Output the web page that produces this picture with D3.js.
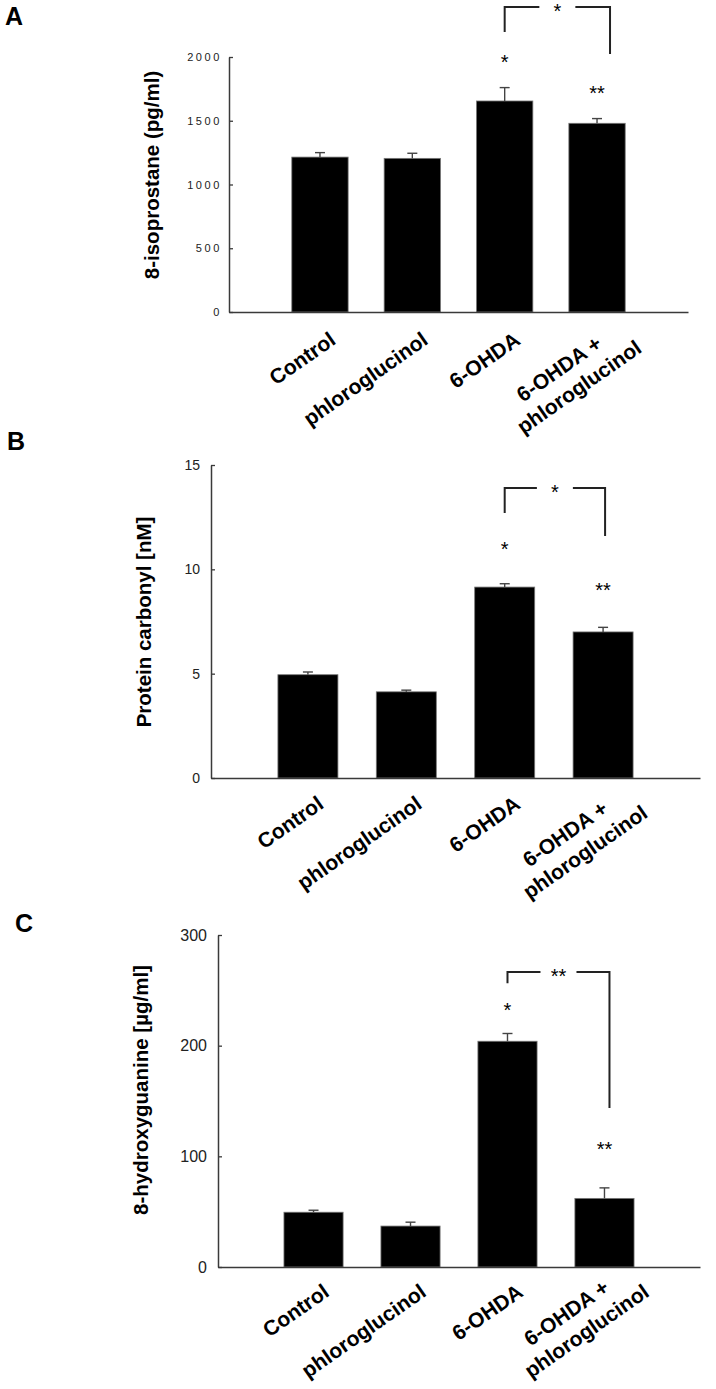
<!DOCTYPE html>
<html><head><meta charset="utf-8">
<script src="https://cdn.jsdelivr.net/npm/d3@7"></script>
<style>
body{margin:0;background:#fff}
svg{display:block}
text{font-family:"Liberation Sans",Arial,Helvetica,sans-serif}
</style>
</head><body>
<svg id="chart" width="716" height="1389"></svg>
<script>
// ---------- data ----------
const categories = ["Control", "phloroglucinol", "6-OHDA", "6-OHDA +\nphloroglucinol"];

const isoprostaneMean = [1215, 1205, 1655, 1480];
const isoprostaneErr  = [35, 40, 105, 37];
const isoprostaneTicks = [0, 500, 1000, 1500, 2000];
const isoprostaneSig = [{cat: 2, text: "*", y: 1992}, {cat: 3, text: "**", y: 1749}];
const isoprostaneBracket = {from: 2, to: 3, top: 2392, leftEnd: 2196, rightEnd: 2024, text: "*"};

const carbonylMean = [4.95, 4.13, 9.15, 7.0];
const carbonylErr  = [0.13, 0.08, 0.16, 0.22];
const carbonylTicks = [0, 5, 10, 15];
const carbonylSig = [{cat: 2, text: "*", y: 11.16}, {cat: 3, text: "**", y: 9.2}];
const carbonylBracket = {from: 2, to: 3, top: 13.9, leftEnd: 12.7, rightEnd: 11.6, text: "*"};

const ohgMean = [49.5, 37, 204, 62];
const ohgErr  = [1.8, 3.5, 7, 9.5];
const ohgTicks = [0, 100, 200, 300];
const ohgSig = [{cat: 2, text: "*", y: 235.8}, {cat: 3, text: "**", y: 110}];
const ohgBracket = {from: 2, to: 3, top: 266.5, leftEnd: 256.5, rightEnd: 143.6, text: "**"};

// ---------- layout / style ----------
const panels = [
  {letter: "A", lx: 5, ly: 25, title: "8-isoprostane (pg/ml)", titleX: 159, titleY: 175,
   mean: isoprostaneMean, err: isoprostaneErr, ticks: isoprostaneTicks, max: 2000,
   x0: 229, x1: 688, yTop: 57, yBase: 312, tickFont: 11, tickLS: 2.6, tickPad: 7,
   labelDy: 31, multiDy: 29,
   sig: isoprostaneSig, bracket: isoprostaneBracket, bracketDx: 13},
  {letter: "B", lx: 7, ly: 450, title: "Protein carbonyl [nM]", titleX: 151, titleY: 622,
   mean: carbonylMean, err: carbonylErr, ticks: carbonylTicks, max: 15,
   x0: 211, x1: 700, yTop: 465, yBase: 778, tickFont: 14, tickLS: 0, tickPad: 11,
   labelDy: 29, multiDy: 28,
   sig: carbonylSig, bracket: carbonylBracket, bracketDx: 2},
  {letter: "C", lx: 15, ly: 932, title: "8-hydroxyguanine [µg/ml]", titleX: 148, titleY: 1090,
   mean: ohgMean, err: ohgErr, ticks: ohgTicks, max: 300,
   x0: 218, x1: 700, yTop: 935, yBase: 1267, tickFont: 16, tickLS: 0, tickPad: 11,
   labelDy: 28, multiDy: 18,
   sig: ohgSig, bracket: ohgBracket, bracketDx: 5}
];

const svg = d3.select("#chart");
const axisColor = "#3a3a3a";
const angle = -35;

panels.forEach(p => {
  const g = svg.append("g");
  const x = d3.scaleBand().domain(d3.range(categories.length))
    .range([p.x0, p.x1]).paddingInner(0.39).paddingOuter(0.68);
  const y = d3.scaleLinear().domain([0, p.max]).range([p.yBase, p.yTop]);
  const cx = i => x(i) + x.bandwidth() / 2;

  // panel letter
  g.append("text").attr("x", p.lx).attr("y", p.ly)
    .attr("font-size", 25).attr("font-weight", "bold").text(p.letter);

  // y title
  g.append("text")
    .attr("transform", `translate(${p.titleX},${p.titleY}) rotate(-90)`)
    .attr("text-anchor", "middle").attr("font-size", 20.5).attr("font-weight", "bold")
    .text(p.title);

  // bars
  g.selectAll("rect.bar").data(p.mean).join("rect")
    .attr("class", "bar")
    .attr("x", (d, i) => x(i)).attr("width", x.bandwidth())
    .attr("y", d => y(d)).attr("height", d => y(0) - y(d))
    .attr("fill", "#000").attr("stroke", "#777").attr("stroke-width", 0.8);

  // error bars (upper only)
  const eg = g.selectAll("g.err").data(p.mean).join("g").attr("class", "err")
    .attr("stroke", "#444").attr("stroke-width", 1.4);
  eg.append("line").attr("x1", (d, i) => cx(i)).attr("x2", (d, i) => cx(i))
    .attr("y1", d => y(d)).attr("y2", (d, i) => y(d + p.err[i]));
  eg.append("line").attr("x1", (d, i) => cx(i) - 5).attr("x2", (d, i) => cx(i) + 5)
    .attr("y1", (d, i) => y(d + p.err[i])).attr("y2", (d, i) => y(d + p.err[i]));

  // y axis (inward ticks)
  const ya = g.append("g").attr("transform", `translate(${p.x0},0)`)
    .call(d3.axisLeft(y).tickValues(p.ticks).tickFormat(d3.format("d"))
      .tickSize(-4).tickSizeOuter(0).tickPadding(p.tickPad));
  ya.select(".domain").attr("stroke", axisColor).attr("stroke-width", 1.5);
  ya.selectAll(".tick line").attr("stroke", axisColor).attr("stroke-width", 1.3);
  ya.selectAll(".tick text").attr("font-size", p.tickFont).attr("fill", "#222")
    .attr("font-family", '"Liberation Sans",Arial,sans-serif')
    .attr("letter-spacing", p.tickLS);

  // x axis line
  const xa = g.append("g").attr("transform", `translate(0,${p.yBase})`)
    .call(d3.axisBottom(x).tickSize(0).tickSizeOuter(0).tickFormat(""));
  xa.select(".domain").attr("stroke", axisColor).attr("stroke-width", 1.5);
  xa.selectAll(".tick").remove();

  // x labels
  categories.forEach((c, i) => {
    const lines = c.split("\n");
    if (lines.length === 1) {
      g.append("text")
        .attr("transform", `translate(${cx(i) + 17},${p.yBase + p.labelDy}) rotate(${angle})`)
        .attr("font-size", 21).attr("font-weight", "bold")
        .attr("text-anchor", "end").text(c);
    } else {
      const t = g.append("text")
        .attr("transform", `translate(${cx(i) + 17},${p.yBase + p.multiDy}) rotate(${angle})`)
        .attr("font-size", 21).attr("font-weight", "bold").attr("text-anchor", "middle");
      lines.forEach((ln, k) => {
        t.append("tspan").attr("x", -61 + k * 6).attr("y", -1.6 + k * 26.5).text(ln);
      });
    }
  });

  // significance stars
  p.sig.forEach(s => {
    g.append("text").attr("x", cx(s.cat)).attr("y", y(s.y) + 11)
      .attr("text-anchor", "middle").attr("font-size", 20).text(s.text);
  });

  // bracket
  const b = p.bracket;
  const bl = cx(b.from), br = cx(b.to) + p.bracketDx, bm = (bl + br) / 2, gap = 18;
  const yt = y(b.top);
  const bg = g.append("g").attr("stroke", "#222").attr("stroke-width", 2).attr("fill", "none");
  bg.append("path").attr("d", `M${bl},${y(b.leftEnd)}V${yt}H${bm - gap}`);
  bg.append("path").attr("d", `M${bm + gap},${yt}H${br}V${y(b.rightEnd)}`);
  g.append("text").attr("x", bm).attr("y", yt + 11)
    .attr("text-anchor", "middle").attr("font-size", 20).text(b.text);
});
</script>
</body></html>
